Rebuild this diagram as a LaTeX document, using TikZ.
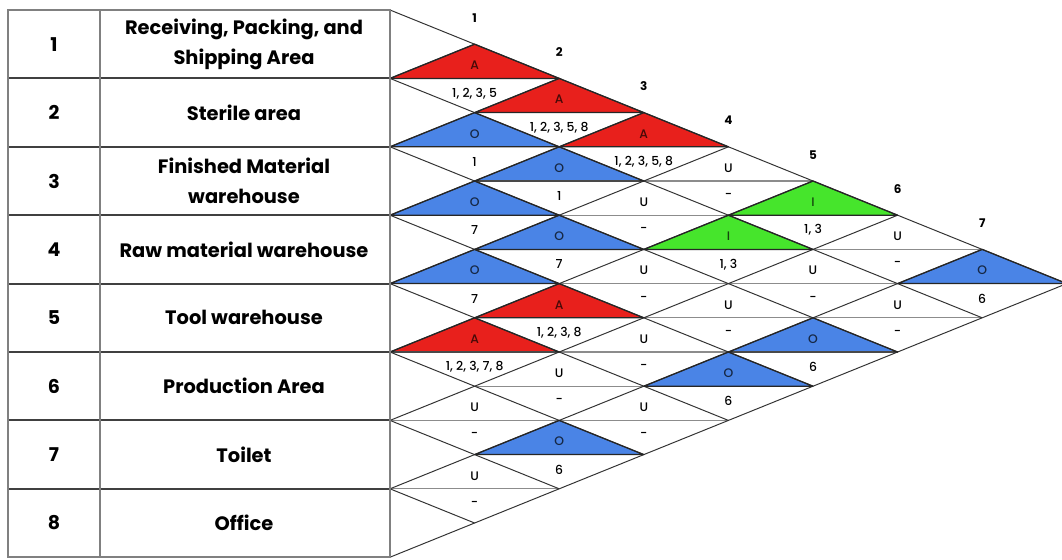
\documentclass[tikz,border=0pt]{standalone}
\usepackage{fontspec}
\setmainfont{Poppins}
\newfontfamily\popmed{Poppins Medium}
\definecolor{arcred}{HTML}{E8201C}
\definecolor{arcblue}{HTML}{4A84E6}
\definecolor{arcgreen}{HTML}{46E52C}

\begin{document}
\begin{tikzpicture}[x=0.025cm,y=-0.025cm]
            \tikzset{tabline/.style={draw=black!50,line width=1.4pt}};
            \tikzset{rowline/.style={draw=black!75,line width=1.4pt}};
            \tikzset{diag/.style={draw=black!80,line width=0.7pt}};
            \tikzset{midline/.style={draw=black!45,line width=0.9pt}};
            \tikzset{numtxt/.style={font=\bfseries\fontsize{13.5}{16}\selectfont}};
            \tikzset{nametxt/.style={font=\bfseries\fontsize{13.8}{21.5}\selectfont,align=center}};
            \tikzset{celltxt/.style={font=\popmed\fontsize{8.8}{10}\selectfont,inner sep=0pt}};
            \tikzset{coltxt/.style={font=\bfseries\fontsize{8.5}{10}\selectfont,inner sep=0pt}};

            \useasboundingbox (0,0) rectangle (1062,559);
            \fill[white] (0,0) rectangle (1062,559);

            \foreach \i/\j/\c/\f/\r in {1/2/A/arcred/{1, 2, 3, 5}, 1/3/A/arcred/{1, 2, 3, 5, 8},
                1/4/A/arcred/{1, 2, 3, 5, 8}, 1/6/I/arcgreen/{1, 3}, 1/8/O/arcblue/6,
                2/3/O/arcblue/1, 2/4/O/arcblue/1, 2/6/I/arcgreen/{1, 3}, 3/4/O/arcblue/7,
                3/5/O/arcblue/7, 3/8/O/arcblue/6, 4/5/O/arcblue/7, 4/6/A/arcred/{1, 2, 3, 8},
                4/8/O/arcblue/6, 5/6/A/arcred/{1, 2, 3, 7, 8}, 6/8/O/arcblue/6} {
                \pgfmathsetmacro\cx{390+84.6*(\j-\i)}
                \pgfmathsetmacro\cy{10+34.2*(\i+\j-1)}
                \fill[\f] (\cx-84.6,\cy) -- (\cx,\cy-34.2) -- (\cx+84.6,\cy) -- cycle;
                \node[celltxt,text=\f!30!black] (code\i\j) at (\cx,\cy-13) {\c};
                \node[celltxt] (why\i\j) at (\cx,\cy+15) {\r};
            }

            \foreach \i/\j in {1/5, 1/7, 2/5, 2/7, 2/8, 3/6, 3/7, 4/7, 5/7, 5/8, 6/7, 7/8} {
                \pgfmathsetmacro\cx{390+84.6*(\j-\i)}
                \pgfmathsetmacro\cy{10+34.2*(\i+\j-1)}
                \node[celltxt] (code\i\j) at (\cx,\cy-13) {U};
                \node[celltxt] (why\i\j) at (\cx,\cy+15) {-};
            }

            \foreach \n in {2,...,14} {
                \pgfmathsetmacro\xa{390+84.6*mod(\n,2)}
                \pgfmathsetmacro\xb{390+84.6*min(\n,16-\n)}
                \draw[midline] (\xa,{10+34.2*\n}) -- (\xb,{10+34.2*\n});
            }

            \foreach \m in {0,...,8} {
                \draw[diag] (390,{10+68.4*\m}) -- ({390+84.6*(8-\m)},{10+68.4*\m+34.2*(8-\m)});
                \draw[diag] (390,{10+68.4*\m}) -- ({390+84.6*\m},{10+34.2*\m});
            }

            \foreach \i/\j/\f in {1/2/arcred, 1/3/arcred, 1/4/arcred, 1/6/arcgreen, 1/8/arcblue,
                2/3/arcblue, 2/4/arcblue, 2/6/arcgreen, 3/4/arcblue, 3/5/arcblue, 3/8/arcblue,
                4/5/arcblue, 4/6/arcred, 4/8/arcblue, 5/6/arcred, 6/8/arcblue} {
                \pgfmathsetmacro\cx{390+84.6*(\j-\i)}
                \pgfmathsetmacro\cy{10+34.2*(\i+\j-1)}
                \draw[black!85,line width=0.9pt,line join=round] (\cx-84.6,\cy) -- (\cx,\cy-34.2) -- (\cx+84.6,\cy) -- cycle;
            }

            \foreach \k in {1,...,7}
                \node[coltxt] (col\k) at ({390+84.6*\k},{18+34.2*(\k-1)}) {\k};

            \foreach \m in {1,...,7}
                \draw[rowline] (8,{10+68.4*\m}) -- (390,{10+68.4*\m});
            \draw[tabline] (100,10) -- (100,557);
            \draw[tabline] (8,10) rectangle (390,557);

            \foreach \name [count=\r] in {{Receiving, Packing, and\\Shipping Area}, Sterile area,
                {Finished Material\\warehouse}, Raw material warehouse, Tool warehouse,
                Production Area, Toilet, Office} {
                \node[numtxt] (num\r) at (54,{10+68.4*(\r-0.5)}) {\r};
                \node[nametxt] (area\r) at (244,{10+68.4*(\r-0.5)}) {\name};
            }
        \end{tikzpicture}
\end{document}
